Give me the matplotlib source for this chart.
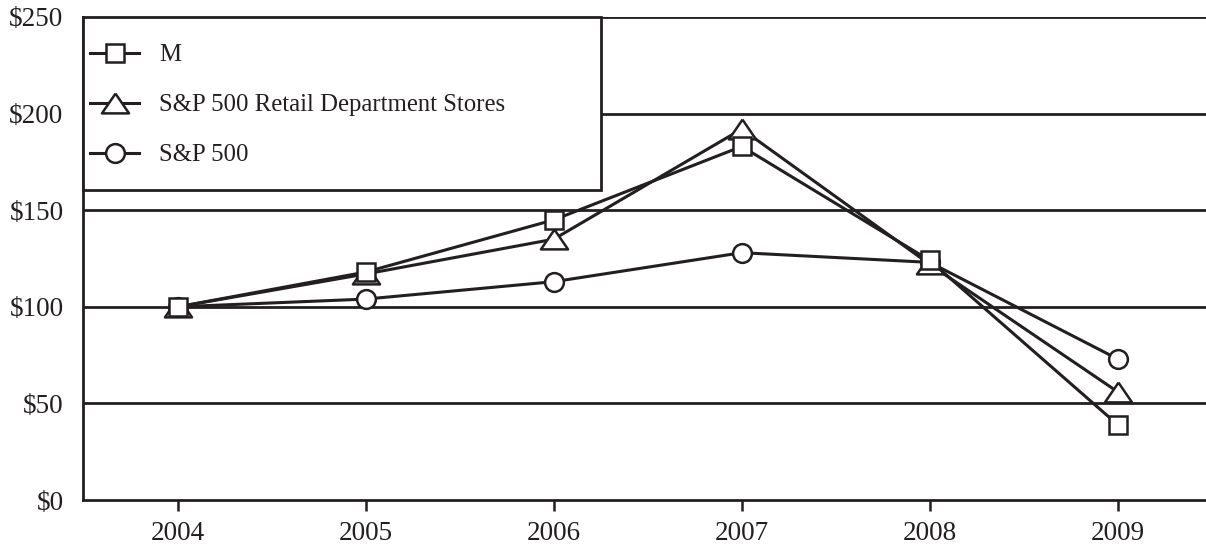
import matplotlib
matplotlib.use("Agg")
import matplotlib.pyplot as plt
from matplotlib.patches import Rectangle

years = [2004, 2005, 2006, 2007, 2008, 2009]
m_values = [100, 118, 145, 183, 124, 39]
retail_values = [100, 117, 135, 192, 122, 56]
sp500_values = [100, 104, 113, 128, 123, 73]
series_labels = ["M", "S&P 500 Retail Department Stores", "S&P 500"]
y_ticks = [0, 50, 100, 150, 200, 250]
y_tick_labels = ["$0", "$50", "$100", "$150", "$200", "$250"]

plt.rcParams['font.family'] = ['Liberation Serif', 'DejaVu Serif']
ink = "#231f20"

fig = plt.figure(figsize=(12.06, 5.49), dpi=100)
ax = fig.add_axes([83/1206, 49/549, 1 - 83/1206, (500-17)/549])

tri = [(0, 0.73), (-1, -0.73), (1, -0.73), (0, 0.73)]
common = dict(color=ink, lw=2.2, markerfacecolor="white", markeredgecolor=ink,
              markeredgewidth=1.8, clip_on=False)
l3, = ax.plot(years, sp500_values, marker="o", markersize=13.5, zorder=3, **common)
l2, = ax.plot(years, retail_values, marker=tri, markersize=19.5, zorder=4, **common)
l1, = ax.plot(years, m_values, marker="s", markersize=13, zorder=5, **common)

ax.set_xlim(2003.495, 2009.47)
ax.set_ylim(0, 250)
ax.set_yticks(y_ticks)
ax.set_yticklabels(y_tick_labels)
ax.set_xticks(years)
ax.set_xticklabels([str(y) for y in years])

for v in y_ticks[1:]:
    ax.axhline(v, color=ink, lw=2.0, zorder=1)

for s in ["top", "right"]:
    ax.spines[s].set_visible(False)
for s in ["left", "bottom"]:
    ax.spines[s].set_color(ink)
    ax.spines[s].set_linewidth(2.0)

ax.tick_params(axis="y", length=0, pad=14, labelsize=19.5, colors=ink)
ax.tick_params(axis="x", length=8, width=1.8, pad=7, labelsize=19.5, colors=ink, direction="out")

# legend box
axw = 1206 - 83
axh = 500 - 17
box_w = (601 - 83) / axw
box_h = (190 - 17) / axh
rect = Rectangle((0, 1 - box_h), box_w, box_h, transform=ax.transAxes,
                 facecolor="white", edgecolor=ink, lw=2.0, zorder=6, clip_on=False)
ax.add_patch(rect)

leg = ax.legend([l1, l2, l3], series_labels, loc="upper left",
                bbox_to_anchor=(7/axw, 1 - 27/axh), frameon=False, fontsize=17.8,
                handlelength=2.0, handletextpad=0.8, labelspacing=1.12,
                borderpad=0, borderaxespad=0)
leg.set_zorder(7)
for t in leg.get_texts():
    t.set_color(ink)

fig.savefig("out.png", dpi=100)
